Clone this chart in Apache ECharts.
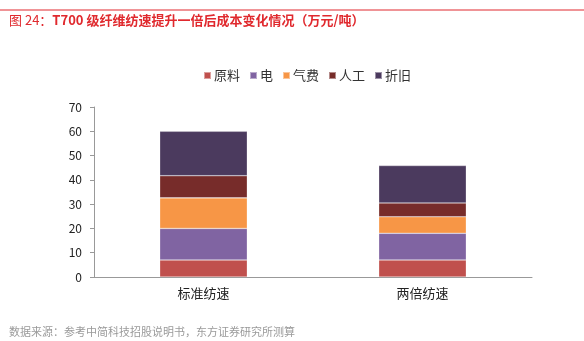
<!DOCTYPE html>
<html>
<head>
<meta charset="utf-8">
<script src="https://cdn.jsdelivr.net/npm/echarts@6/dist/echarts.min.js"></script>
<style>
  html, body { margin: 0; padding: 0; background: #fff; }
  #chart { width: 584px; height: 341px; }
</style>
</head>
<body>
<div id="chart"></div>
<script>
// Cost breakdown per tonne (万元/吨) at standard vs doubled spinning speed
const categories = ['标准纺速', '两倍纺速'];
const seriesNames = ['原料', '电', '气费', '人工', '折旧'];
const rawMaterial = [7.0, 7.0];
const electricity = [13.0, 11.0];
const gas = [12.6, 6.8];
const labour = [9.1, 5.7];
const depreciation = [18.3, 15.4];
const yTicks = [0, 10, 20, 30, 40, 50, 60, 70];

const colors = ['#c0504d', '#8064a2', '#f79646', '#772c2a', '#4b3a5e'];
const values = [rawMaterial, electricity, gas, labour, depreciation];
const font = '"Noto Sans CJK SC", "Microsoft YaHei", sans-serif';

const chart = echarts.init(document.getElementById('chart'), null, { renderer: 'canvas' });
chart.setOption({
  animation: false,
  backgroundColor: '#fff',
  color: colors,
  title: [{
    text: '{n|图 24：}{b|T700 级纤维纺速提升一倍后成本变化情况（万元/吨）}',
    left: 9, top: 14, padding: 0,
    textStyle: {
      rich: {
        n: { color: '#e0292e', fontSize: 13, fontWeight: 'normal', fontFamily: font },
        b: { color: '#e0292e', fontSize: 13, fontWeight: 'bold', fontFamily: font }
      }
    }
  }, {
    text: '数据来源：参考中简科技招股说明书，东方证券研究所测算',
    left: 9, top: 326, padding: 0,
    textStyle: { color: '#9a9a9a', fontSize: 11, fontWeight: 'normal', fontFamily: font }
  }],
  graphic: [{
    type: 'line',
    shape: { x1: 0, y1: 10, x2: 584, y2: 10 },
    style: { stroke: '#e0292e', lineWidth: 1 }
  }],
  legend: {
    data: seriesNames,
    top: 69, left: 203, padding: 0,
    itemWidth: 7, itemHeight: 7, itemGap: 9,
    icon: 'rect',
    textStyle: { fontSize: 13, color: '#333', fontFamily: font, padding: [0, 0, 0, -2] }
  },
  grid: { left: 94, right: 52, top: 107, bottom: 64 },
  xAxis: {
    type: 'category',
    data: categories,
    axisLine: { lineStyle: { color: '#999', width: 1 } },
    axisTick: { show: false },
    axisLabel: { fontSize: 13, color: '#222', margin: 10, fontFamily: font }
  },
  yAxis: {
    type: 'value',
    min: yTicks[0], max: yTicks[yTicks.length - 1], interval: 10,
    axisLine: { show: true, lineStyle: { color: '#999' } },
    axisTick: { show: true, length: 4, lineStyle: { color: '#999' } },
    splitLine: { show: false },
    axisLabel: { fontSize: 12, color: '#222', margin: 12, fontFamily: font }
  },
  series: seriesNames.map((name, i) => ({
    name,
    type: 'bar',
    stack: 'cost',
    barWidth: '40%',
    data: values[i],
    itemStyle: { color: colors[i], borderColor: 'rgba(255,255,255,0.45)', borderWidth: 0.6 }
  }))
});
</script>
</body>
</html>
